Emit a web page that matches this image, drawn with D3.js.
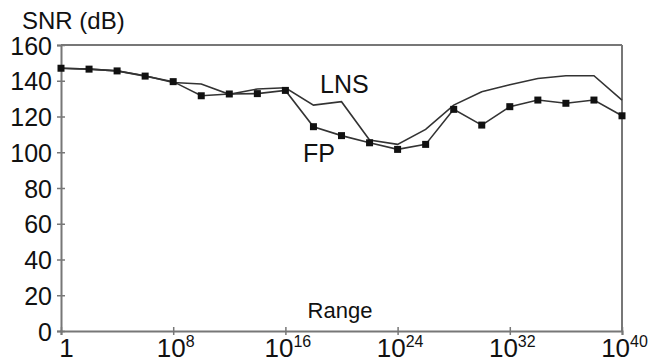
<!DOCTYPE html>
<html><head><meta charset="utf-8">
<script src="https://cdn.jsdelivr.net/npm/d3@7"></script>
<style>body{margin:0;background:#fff}svg{display:block}text{font-family:Arial,"Liberation Sans",sans-serif;fill:#111}</style>
</head><body><svg id="c" width="652" height="362"></svg>
<script>
const exponents = [0,2,4,6,8,10,12,14,16,18,20,22,24,26,28,30,32,34,36,38,40];
const fpValues  = [147,146.5,145.5,142.6,139.5,131.6,132.6,132.8,134.6,114.3,109.3,105.3,101.6,104.4,124,115.2,125.5,129.2,127.4,129.2,120.4];
const lnsValues = [147,146.5,145.5,142.8,139,138.2,132.4,135.4,136.1,126.4,128.3,106.8,104.4,112.8,126.4,133.9,137.8,141.3,142.8,142.8,129.2];
const xTickExps = [0,8,16,24,32,40];
const yTicks = [0,20,40,60,80,100,120,140,160];

const svg = d3.select("#c");
const x = d3.scaleLog().domain([1,1e40]).range([61,622]);
const y = d3.scaleLinear().domain([0,160]).range([331,45]);
const frame = "#777";
const FF = "Arial, Liberation Sans, sans-serif";

// frame top & right
svg.append("line").attr("x1",61).attr("x2",622).attr("y1",y(160)).attr("y2",y(160)).attr("stroke",frame).attr("stroke-width",2);
svg.append("line").attr("x1",x(1e40)).attr("x2",x(1e40)).attr("y1",y(160)).attr("y2",y(0)).attr("stroke",frame).attr("stroke-width",2);

// y axis
const ya = svg.append("g").attr("transform","translate(61,0)")
  .call(d3.axisLeft(y).tickValues(yTicks).tickSize(4).tickFormat(d3.format("d")));
ya.select(".domain").attr("stroke",frame).attr("stroke-width",2);
ya.selectAll(".tick line").attr("stroke",frame).attr("stroke-width",1.5).attr("x1",4).attr("x2",-4);
ya.selectAll(".tick text").attr("x",-9).attr("dy","0.36em").attr("font-size",25).attr("fill","#111").attr("font-family",FF);

// x axis
const xa = svg.append("g").attr("transform",`translate(0,${y(0)})`)
  .call(d3.axisBottom(x).tickValues(xTickExps.map(e=>Math.pow(10,e))).tickSize(4).tickFormat(""));
xa.select(".domain").attr("stroke",frame).attr("stroke-width",2);
xa.selectAll(".tick line").attr("stroke",frame).attr("stroke-width",1.5).attr("y1",-4).attr("y2",4);
xa.selectAll(".tick").each(function(d,i){
  const e = xTickExps[i];
  const t = d3.select(this).append("text").attr("y",26).attr("text-anchor","middle")
     .attr("font-size",26).attr("fill","#111").attr("font-family",FF);
  if (e===0) { t.attr("x",5).text("1"); }
  else { t.attr("x",2); t.append("tspan").text("10"); t.append("tspan").attr("dy",-10).attr("font-size",16).text(e); }
});

// lines
const line = d3.line().x((d,i)=>x(Math.pow(10,exponents[i]))).y(d=>y(d));
svg.append("path").datum(lnsValues).attr("d",line).attr("fill","none").attr("stroke","#333").attr("stroke-width",1.6);
svg.append("path").datum(fpValues).attr("d",line).attr("fill","none").attr("stroke","#333").attr("stroke-width",1.6);
svg.selectAll("rect.m").data(fpValues).enter().append("rect").attr("class","m")
  .attr("x",(d,i)=>x(Math.pow(10,exponents[i]))-3.5).attr("y",d=>y(d)-3.5).attr("width",7).attr("height",7).attr("fill","#111");

// labels
svg.append("text").attr("x",22).attr("y",29).attr("font-size",24).text("SNR (dB)");
svg.append("text").attr("x",320).attr("y",93).attr("font-size",25).text("LNS");
svg.append("text").attr("x",303).attr("y",162).attr("font-size",25).text("FP");
svg.append("text").attr("x",340).attr("y",318).attr("text-anchor","middle").attr("font-size",22).text("Range");
</script></body></html>
